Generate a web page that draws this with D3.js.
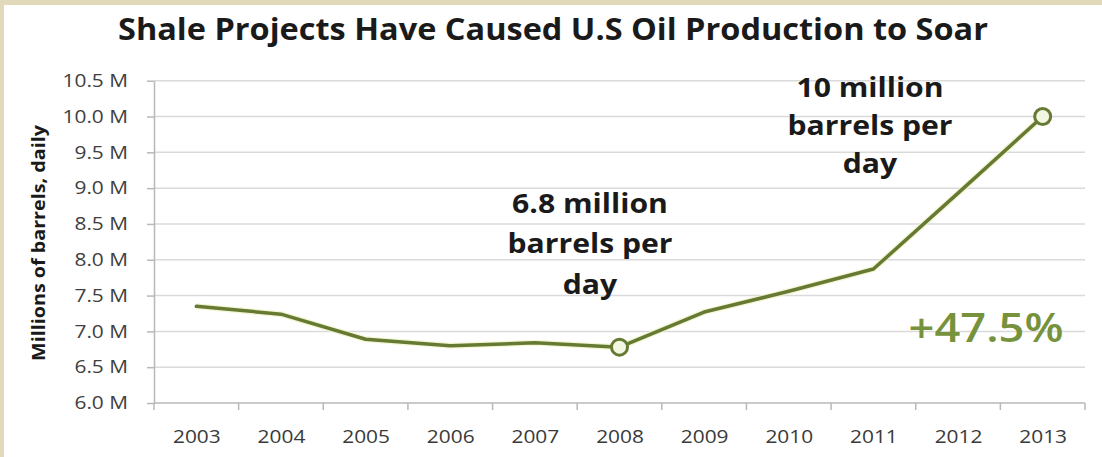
<!DOCTYPE html>
<html>
<head>
<meta charset="utf-8">
<script src="https://cdn.jsdelivr.net/npm/d3@7"></script>
<style>
  body { margin: 0; background: #fff; }
  text { font-family: "Open Sans", sans-serif; }
</style>
</head>
<body>
<svg></svg>
<script>
// values
const years = ["2003","2004","2005","2006","2007","2008","2009","2010","2011","2012","2013"];
const production = [7.35, 7.24, 6.89, 6.80, 6.84, 6.78, 7.27, 7.56, 7.87, 8.93, 10.0];
const yTicks = [6.0, 6.5, 7.0, 7.5, 8.0, 8.5, 9.0, 9.5, 10.0, 10.5];
const markedYears = ["2008", "2013"];
const note2008 = ["6.8 million", "barrels per", "day"];
const note2013 = ["10 million", "barrels per", "day"];
const changeLabel = "+47.5%";
const title = "Shale Projects Have Caused U.S Oil Production to Soar";
const yTitle = "Millions of barrels, daily";

const W = 1102, H = 457;
const plot = {l: 154, r: 1085, t: 80.7, b: 403};
const SX = 1.16; // source text looks horizontally stretched
const olive = "#667a34";

const svg = d3.select("svg").attr("width", W).attr("height", H);

// beige frame on top / left
svg.append("rect").attr("width", W).attr("height", H).attr("fill", "#e2d9bb");
svg.append("rect").attr("x", 4).attr("y", 5).attr("width", W - 4).attr("height", H - 5).attr("fill", "#fff");

const x = d3.scalePoint().domain(years).range([plot.l, plot.r]).padding(0.5);
const xb = d3.scaleBand().domain(years).range([plot.l, plot.r]);
const y = d3.scaleLinear().domain([6, 10.5]).range([plot.b, plot.t]);

// gridlines
svg.append("g")
  .selectAll("line")
  .data(yTicks.slice(1))
  .join("line")
    .attr("x1", plot.l).attr("x2", plot.r)
    .attr("y1", d => y(d)).attr("y2", d => y(d))
    .attr("stroke", "#dadada").attr("stroke-width", 1.5);

// y axis
const yAxis = svg.append("g")
  .attr("transform", `translate(${plot.l},0)`)
  .call(d3.axisLeft(y).tickValues(yTicks).tickFormat(d => d.toFixed(1) + " M").tickSize(7).tickSizeOuter(0).tickPadding(19));
yAxis.select(".domain").attr("stroke", "#b8b8b8").attr("stroke-width", 1.5);
yAxis.selectAll(".tick line").attr("stroke", "#b8b8b8").attr("stroke-width", 1.5);
yAxis.selectAll("text")
  .attr("font-size", 18).attr("fill", "#404040")
  .attr("x", -26 / SX)
  .attr("transform", `scale(${SX},1)`);

// x axis
const xAxis = svg.append("g")
  .attr("transform", `translate(0,${plot.b})`)
  .call(d3.axisBottom(x).tickSize(0).tickPadding(27));
xAxis.select(".domain").remove();
xAxis.selectAll("text")
  .attr("font-size", 18).attr("fill", "#3a3a3a")
  .attr("transform", `scale(${SX},1)`);
svg.append("line")
  .attr("x1", plot.l).attr("x2", plot.r).attr("y1", plot.b).attr("y2", plot.b)
  .attr("stroke", "#b8b8b8").attr("stroke-width", 1.5);
svg.append("g")
  .selectAll("line")
  .data(years.concat(["end"]))
  .join("line")
    .attr("x1", d => d === "end" ? plot.r : xb(d))
    .attr("x2", d => d === "end" ? plot.r : xb(d))
    .attr("y1", plot.b).attr("y2", plot.b + 7)
    .attr("stroke", "#b8b8b8").attr("stroke-width", 1.5);

// series
const data = years.map((yr, i) => ({year: yr, value: production[i]}));
const line = d3.line().x(d => x(d.year)).y(d => y(d.value));

svg.append("path")
  .datum(data)
  .attr("d", line)
  .attr("fill", "none")
  .attr("stroke", "#eef2c0").attr("stroke-width", 6)
  .attr("stroke-linejoin", "round").attr("opacity", 0.7);
svg.append("path")
  .datum(data)
  .attr("d", line)
  .attr("fill", "none")
  .attr("stroke", olive).attr("stroke-width", 3.5)
  .attr("stroke-linejoin", "round").attr("stroke-linecap", "round");

svg.append("g")
  .selectAll("circle")
  .data(data.filter(d => markedYears.includes(d.year)))
  .join("circle")
    .attr("cx", d => x(d.year)).attr("cy", d => y(d.value))
    .attr("r", 8)
    .attr("fill", "#f3f6e0")
    .attr("stroke", olive).attr("stroke-width", 3);

// title
svg.append("text")
  .attr("x", 553).attr("y", 40)
  .attr("text-anchor", "middle")
  .attr("font-size", 31).attr("font-weight", 700).attr("fill", "#1a1a1a")
  .attr("textLength", 870).attr("lengthAdjust", "spacingAndGlyphs")
  .text(title);

// y title
svg.append("text")
  .attr("transform", `translate(45,243) rotate(-90) scale(${SX},1)`)
  .attr("text-anchor", "middle")
  .attr("font-size", 17).attr("font-weight", 700).attr("fill", "#1a1a1a")
  .text(yTitle);

// annotations
function note(lines, cx, baselines) {
  svg.append("g")
    .selectAll("text")
    .data(lines)
    .join("text")
      .attr("transform", (d, i) => `translate(${cx},${baselines[i]}) scale(${SX},1)`)
      .attr("text-anchor", "middle")
      .attr("font-size", 26).attr("font-weight", 700).attr("fill", "#1a1a1a")
      .text(d => d);
}
note(note2008, 590, [213, 253, 294]);
note(note2013, 870, [97, 135, 173]);

svg.append("text")
  .attr("transform", `translate(986,342) scale(${SX},1)`)
  .attr("text-anchor", "middle")
  .attr("font-size", 39).attr("font-weight", 600).attr("fill", "#76923c")
  .text(changeLabel);
</script>
</body>
</html>
